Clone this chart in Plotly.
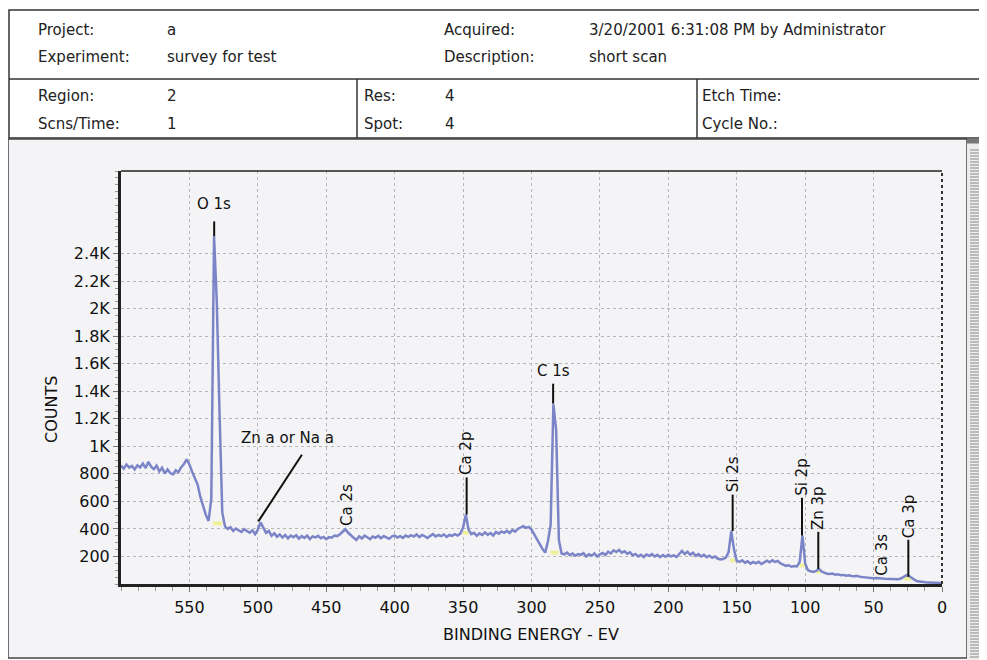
import plotly.graph_objects as go

# header of the scan report
header_rows = [
    ["Project:", "a", "Acquired:", "3/20/2001 6:31:08 PM by Administrator"],
    ["Experiment:", "survey for test", "Description:", "short scan"],
]
param_rows = [
    ["Region:", "2", "Res:", "4", "Etch Time:"],
    ["Scns/Time:", "1", "Spot:", "4", "Cycle No.:"],
]

# survey spectrum, 2 eV step from 600 eV down to 0 eV
energy = list(range(600, -1, -2))
counts = [
    860, 838, 868, 845, 858, 832, 862, 846, 875, 842,      # 600-582
    888, 852, 834, 860, 818, 845, 802, 832, 806, 796,      # 580-562
    826, 812, 848, 872, 905, 868, 815, 772, 722, 632,      # 560-542
    562, 502, 458, 620, 2525, 2050, 1250, 520, 418, 400,   # 540-522
    412, 385, 402, 392, 378, 398, 386, 372, 390, 362,      # 520-502
    395, 448, 410, 372, 386, 350, 368, 344, 360, 338,      # 500-482
    356, 332, 352, 340, 355, 330, 348, 335, 352, 326,      # 480-462
    346, 338, 350, 332, 342, 325, 340, 336, 352, 348,      # 460-442
    362, 380, 398, 372, 350, 336, 320, 346, 330, 352,      # 440-422
    340, 326, 345, 336, 350, 332, 348, 340, 328, 346,      # 420-402
    352, 338, 348, 335, 352, 342, 355, 345, 360, 340,      # 400-382
    356, 347, 334, 350, 362, 345, 356, 348, 360, 342,      # 380-362
    356, 350, 362, 352, 366, 410, 505, 395, 362, 372,      # 360-342
    350, 368, 356, 375, 358, 370, 352, 378, 366, 382,      # 340-322
    372, 386, 370, 392, 380, 400, 412, 420, 408, 415,      # 320-302
    395, 360, 318, 285, 255, 228, 310, 430, 1305, 1120,    # 300-282
    320, 222, 215, 228, 210, 222, 205, 218, 212, 224,      # 280-262
    200, 216, 206, 222, 200, 215, 225, 210, 235, 222,      # 260-242
    245, 232, 248, 228, 238, 220, 230, 208, 218, 200,      # 240-222
    212, 196, 214, 205, 218, 200, 212, 195, 210, 198,      # 220-202
    212, 200, 208, 196, 220, 240, 218, 235, 212, 228,      # 200-182
    205, 218, 200, 212, 195, 206, 190, 200, 185, 178,      # 180-162
    182, 192, 230, 385, 250, 168, 160, 172, 155, 165,      # 160-142
    148, 160, 150, 162, 145, 155, 170, 158, 172, 160,      # 140-122
    168, 150, 140, 132, 136, 125, 130, 128, 160, 352,      # 120-102
    150, 100, 92, 88, 95, 110, 92, 80, 74, 72,             # 100-82
    76, 68, 70, 64, 66, 60, 63, 58, 56, 60,                # 80-62
    52, 50, 47, 46, 44, 42, 44, 40, 40, 38,                # 60-42
    37, 36, 34, 33, 35, 40, 50, 64, 58, 42,                # 40-22
    30, 20, 16, 13, 12, 11, 10, 10, 9, 8,                  # 20-2
    8,                                                     # 0
]

# peak background markers (yellow)
base_start = [533, 350, 286, 155, 104, 92, 28]
base_end = [526, 346, 280, 151, 100, 88, 22]
base_level = [440, 372, 228, 172, 135, 92, 40]

# peak labels
label_text = ["O 1s", "C 1s", "Ca 2s", "Ca 2p", "Si 2s", "Si 2p", "Zn 3p", "Ca 3s", "Ca 3p"]
label_energy = [531.9, 284.2, 435.4, 347.4, 153.0, 102.3, 90.4, 43.9, 24.6]
label_angle = [0, 0, -90, -90, -90, -90, -90, -90, -90]
label_y = [2758, 1550, 409, 774, 649, 626, 379, 45, 321]
line_bottom = [2525, 1310, None, 505, 385, 352, 110, None, 52]
line_top = [2634, 1455, None, 774, 649, 626, 379, None, 321]

aux_label = "Zn a or Na a"
aux_text_pos = (478.6, 1063)
aux_line = [(499.6, 455), (467.8, 939)]

x_ticks = [550, 500, 450, 400, 350, 300, 250, 200, 150, 100, 50, 0]
y_ticks = [200, 400, 600, 800, 1000, 1200, 1400, 1600, 1800, 2000, 2200, 2400]
y_ticktext = ["200", "400", "600", "800", "1K", "1.2K", "1.4K", "1.6K", "1.8K", "2K", "2.2K", "2.4K"]

# the page body keeps an 8 px margin, so the figure is a bit smaller than the window
W, H = 979, 652
L, R, T, B = 113, 45, 163, 76
FONT = "DejaVu Sans"


# window pixels -> paper coordinates
def px(x):
    return (x - 8 - L) / (W - L - R)


def py(y):
    return (H - B - (y - 8)) / (H - T - B)


fig = go.Figure()

bx, by = [], []
for s, e, lv in zip(base_start, base_end, base_level):
    bx += [s, e, None]
    by += [lv, lv, None]
fig.add_trace(go.Scatter(x=bx, y=by, mode="lines",
                         line=dict(color="#eef09a", width=4), hoverinfo="skip"))

fig.add_trace(go.Scatter(x=energy, y=counts, mode="lines",
                         line=dict(color="#7c84c8", width=2.5)))

shapes = []
annotations = []

# header box
line_c = "#333333"
shapes.append(dict(type="rect", xref="paper", yref="paper",
                   x0=px(9), x1=px(1000), y0=py(10), y1=py(138),
                   line=dict(color=line_c, width=1.5), layer="below"))
shapes.append(dict(type="line", xref="paper", yref="paper",
                   x0=px(9), x1=px(1000), y0=py(79), y1=py(79),
                   line=dict(color=line_c, width=1.5)))
for vx in [357, 697]:
    shapes.append(dict(type="line", xref="paper", yref="paper",
                       x0=px(vx), x1=px(vx), y0=py(79), y1=py(138),
                       line=dict(color=line_c, width=1.5)))

for row, yy in zip(header_rows, [30, 57]):
    for txt, xx in zip(row, [36, 165, 442, 587]):
        annotations.append(dict(text=txt, x=px(xx), y=py(yy), xref="paper", yref="paper",
                                xanchor="left", yanchor="middle", showarrow=False,
                                font=dict(family=FONT, size=15, color="#222")))
for row, yy in zip(param_rows, [96, 124]):
    for txt, xx in zip(row, [36, 165, 362, 443, 700]):
        annotations.append(dict(text=txt, x=px(xx), y=py(yy), xref="paper", yref="paper",
                                xanchor="left", yanchor="middle", showarrow=False,
                                font=dict(family=FONT, size=15, color="#222")))

# chart panel and side ruler
shapes.append(dict(type="rect", xref="paper", yref="paper",
                   x0=px(8), x1=px(967), y0=py(139), y1=py(658),
                   fillcolor="#f4f4f6", line=dict(color="#444", width=1.5), layer="below"))
shapes.append(dict(type="rect", xref="paper", yref="paper",
                   x0=px(967), x1=px(990), y0=py(139), y1=py(662),
                   fillcolor="#ececec", line=dict(width=0), layer="below"))
stripes = ""
for k in range(150, 660, 3):
    stripes += "M{:.4f},{:.4f} L{:.4f},{:.4f} ".format(px(970), py(k), px(987), py(k))
shapes.append(dict(type="path", xref="paper", yref="paper", path=stripes,
                   line=dict(color="#8a8a8a", width=1)))
shapes.append(dict(type="line", xref="paper", yref="paper",
                   x0=px(967), x1=px(987), y0=py(141), y1=py(141),
                   line=dict(color="#777", width=5)))

# frame: top solid, right dotted
shapes.append(dict(type="line", xref="paper", yref="paper", x0=0, x1=1, y0=1, y1=1,
                   line=dict(color="#222", width=1.5)))
shapes.append(dict(type="line", xref="paper", yref="paper", x0=1, x1=1, y0=0, y1=1,
                   line=dict(color="#333", width=2, dash="dot")))

# peak labels
for txt, e, ang, ly, lb, lt in zip(label_text, label_energy, label_angle,
                                   label_y, line_bottom, line_top):
    if lb is not None:
        shapes.append(dict(type="line", xref="x", yref="y", x0=e, x1=e, y0=lb, y1=lt,
                           line=dict(color="#111", width=2)))
    annotations.append(dict(text=txt, x=e, y=ly, xref="x", yref="y", showarrow=False,
                            textangle=ang, xanchor="center",
                            yanchor="middle" if ang == 0 else "bottom",
                            font=dict(family=FONT, size=15, color="#111")))
shapes.append(dict(type="line", xref="x", yref="y",
                   x0=aux_line[0][0], y0=aux_line[0][1], x1=aux_line[1][0], y1=aux_line[1][1],
                   line=dict(color="#111", width=2)))
annotations.append(dict(text=aux_label, x=aux_text_pos[0], y=aux_text_pos[1],
                        xref="x", yref="y", showarrow=False,
                        xanchor="center", yanchor="middle",
                        font=dict(family=FONT, size=15, color="#111")))

# axis titles
annotations.append(dict(text="COUNTS", x=px(51), y=py(410), xref="paper", yref="paper",
                        textangle=-90, showarrow=False, xanchor="center", yanchor="middle",
                        font=dict(family=FONT, size=16, color="#111")))
annotations.append(dict(text="BINDING ENERGY - EV", x=px(531), y=py(634),
                        xref="paper", yref="paper", showarrow=False,
                        xanchor="center", yanchor="middle",
                        font=dict(family=FONT, size=16, color="#111")))

fig.update_layout(
    width=W, height=H,
    margin=dict(l=L, r=R, t=T, b=B),
    paper_bgcolor="white",
    plot_bgcolor="rgba(0,0,0,0)",
    showlegend=False,
    shapes=shapes,
    annotations=annotations,
    font=dict(family=FONT, size=15, color="#111"),
    xaxis=dict(
        range=[600, 0], tickvals=x_ticks, ticks="outside", ticklen=5,
        tickcolor="#777", ticklabelstandoff=2,
        showgrid=True, gridcolor="#b8b8b8", griddash="dot", gridwidth=1,
        showline=True, linecolor="#222", linewidth=3, zeroline=False,
        minor=dict(dtick=12.5, tick0=0, ticks="outside", ticklen=4, tickcolor="#999"),
        tickfont=dict(family=FONT, size=16, color="#111"),
    ),
    yaxis=dict(
        range=[0, 3000], tickvals=y_ticks, ticktext=y_ticktext,
        ticks="outside", ticklen=5, tickcolor="#777",
        showgrid=True, gridcolor="#b8b8b8", griddash="dot", gridwidth=1,
        showline=True, linecolor="#222", linewidth=3, zeroline=False,
        minor=dict(dtick=50, ticks="outside", ticklen=3, tickcolor="#999"),
        tickfont=dict(family=FONT, size=16, color="#111"),
    ),
)

fig.write_html("out.html")
